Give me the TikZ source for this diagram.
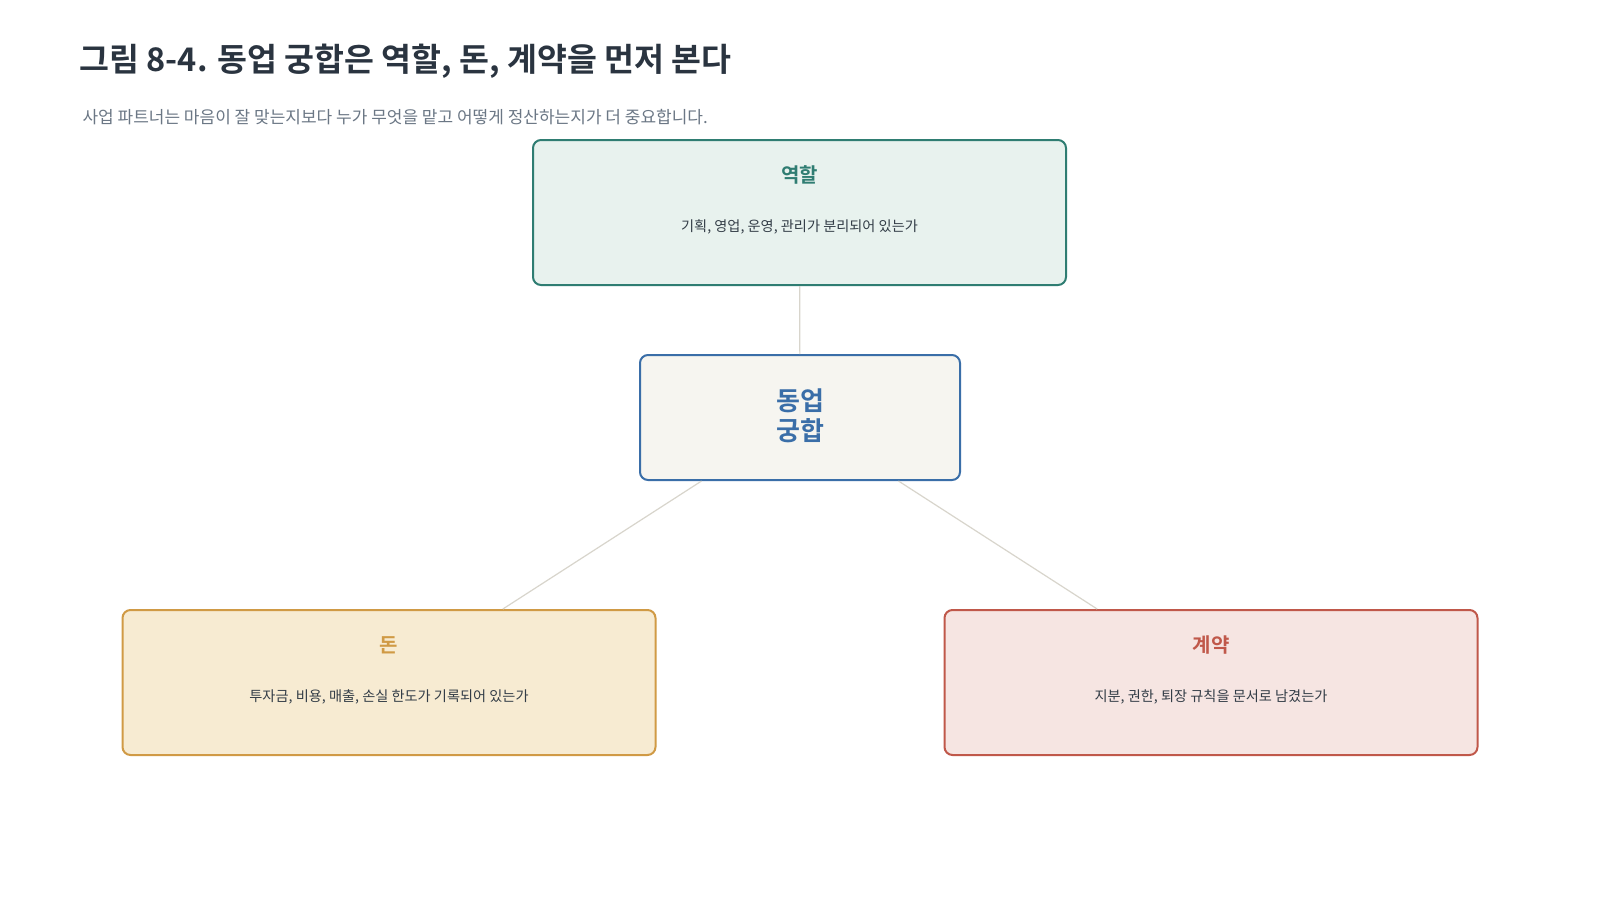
\documentclass[tikz,border=0pt]{standalone}
\usepackage{fontspec}
\setmainfont{Noto Sans CJK KR}
\newfontfamily\krbold{Noto Sans CJK KR Bold}
\definecolor{titlec}{HTML}{2A3440}
\definecolor{subc}{HTML}{6B7785}
\definecolor{bodyc}{HTML}{333D47}
\definecolor{tealc}{HTML}{2F7D72}
\definecolor{tealf}{HTML}{E8F2EE}
\definecolor{bluec}{HTML}{3A6EA8}
\definecolor{bluef}{HTML}{F6F5F0}
\definecolor{goldc}{HTML}{D09A45}
\definecolor{goldf}{HTML}{F7EBD2}
\definecolor{redc}{HTML}{C0584A}
\definecolor{redf}{HTML}{F6E5E2}
\definecolor{linec}{HTML}{D8D5CC}
\begin{document}
\begin{tikzpicture}[x=1pt,y=-1pt,
  card/.style={draw, line width=2pt, rounded corners=8pt, minimum width=533pt, minimum height=145pt, inner sep=0pt},
  hub/.style={draw=bluec, fill=bluef, line width=2pt, rounded corners=8pt, minimum width=320pt, minimum height=125pt, inner sep=0pt},
  cardtitle/.style={font=\krbold\fontsize{20}{24}\selectfont},
  cardbody/.style={font=\fontsize{14.2}{17}\selectfont, text=bodyc},
  link/.style={draw=linec, line width=1.2pt}]
\useasboundingbox (0,0) rectangle (1600,900);
\fill[white] (0,0) rectangle (1600,900);
\node[anchor=west, text=titlec, font=\krbold\fontsize{32.5}{38}\selectfont] (title) at (76,61) {그림 8-4. 동업 궁합은 역할, 돈, 계약을 먼저 본다};
\node[anchor=west, text=subc, font=\fontsize{17}{20}\selectfont] (sub) at (79,117.5) {사업 파트너는 마음이 잘 맞는지보다 누가 무엇을 맡고 어떻게 정산하는지가 더 중요합니다.};
\node[card, draw=tealc, fill=tealf] (role) at (799.5,212.5) {};
\node[card, draw=goldc, fill=goldf] (money) at (389,682.5) {};
\node[card, draw=redc, fill=redf] (contract) at (1211,682.5) {};
\node[hub] (hub) at (800,417.5) {};
\draw[link] (hub) -- (role);
\draw[link] (hub) -- (money);
\draw[link] (hub) -- (contract);
\node[cardtitle, text=tealc] (roleT) at (799.5,174.5) {역할};
\node[cardbody] (roleB) at (799.5,226.5) {기획, 영업, 운영, 관리가 분리되어 있는가};
\node[cardtitle, text=goldc] (moneyT) at (389,645) {돈};
\node[cardbody] (moneyB) at (389,696.5) {투자금, 비용, 매출, 손실 한도가 기록되어 있는가};
\node[cardtitle, text=redc] (contractT) at (1211,645) {계약};
\node[cardbody] (contractB) at (1211,696.5) {지분, 권한, 퇴장 규칙을 문서로 남겼는가};
\node[text=bluec, font=\krbold\fontsize{26}{30}\selectfont, align=center] (hubT) at (800,416) {동업\\궁합};
\end{tikzpicture}
\end{document}
